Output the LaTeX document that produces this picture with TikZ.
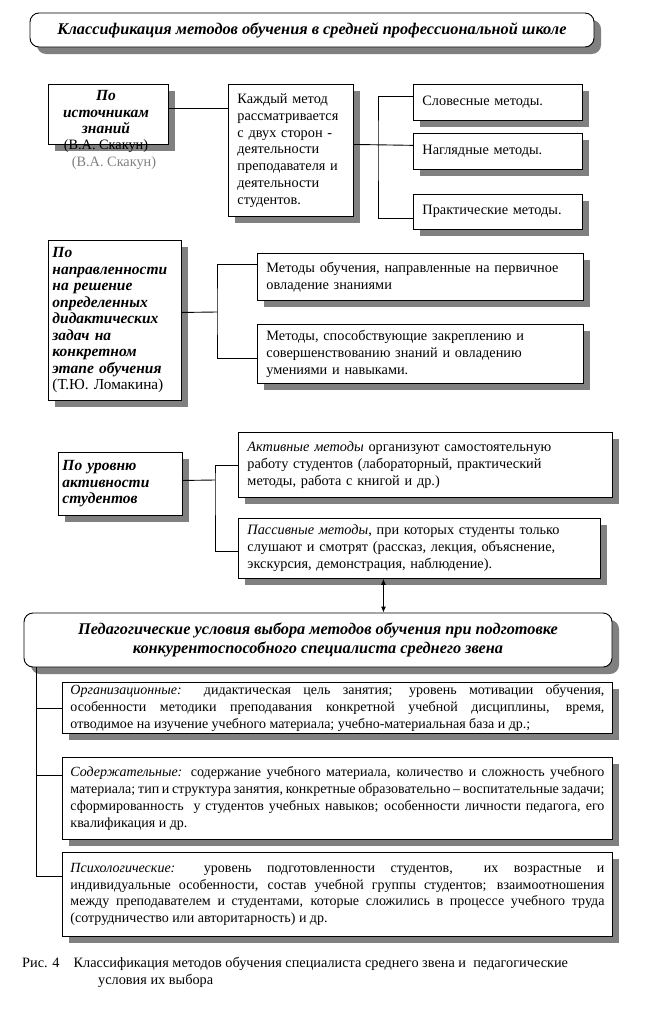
\documentclass[tikz,border=0pt]{standalone}
\usepackage{fontspec}
\setmainfont{Liberation Serif}
\usetikzlibrary{positioning,arrows.meta,shadows}
\newcommand\hdfont{\fontsize{16.3}{18.5}\selectfont\bfseries\itshape}
\newcommand\ctfont{\fontsize{15.5}{16.5}\selectfont\bfseries\itshape}
\newcommand\bdfont{\fontsize{14.3}{16.8}\selectfont}
\newcommand\cdfont{\fontsize{14}{16.7}\selectfont}

\begin{document}
\begin{tikzpicture}[x=1pt, y=-1pt,
    shadowed/.style={drop shadow={shadow xshift=7pt, shadow yshift=-7pt, fill=black!50, opacity=1}},
    headBox/.style={rectangle, rounded corners=9pt, draw=black, line width=0.9pt, fill=white, shadowed, font=\hdfont, align=center, inner sep=3pt},
    catBox/.style={rectangle, draw=black, line width=0.9pt, fill=white, shadowed, font=\ctfont, align=left, anchor=north west, inner xsep=4pt, inner ysep=2pt},
    methBox/.style={rectangle, draw=black, line width=0.9pt, fill=white, shadowed, font=\bdfont, align=left, anchor=north west, inner xsep=9pt, inner ysep=2pt},
    condBox/.style={rectangle, draw=black, line width=0.9pt, fill=white, shadowed, font=\cdfont, align=justify, anchor=north west, inner xsep=8pt, inner ysep=2pt, text width=534pt},
    link/.style={draw=black, line width=0.9pt},
    dblArrow/.style={{Latex[length=6pt,width=5pt]}-{Latex[length=6pt,width=5pt]}, line width=0.9pt}
]
    \useasboundingbox (0,0) rectangle (649,1009);

    % Title
    \node[headBox, minimum width=564pt, minimum height=34pt] (title) at (312,30)
        {Классификация методов обучения в средней профессиональной школе};

    % Block 1: sources of knowledge
    \node[catBox, minimum width=120pt, minimum height=60pt] (src) at (48,84) {};
    \node[font=\bdfont, text=black!50, inner sep=0pt] (srcShade) at (114,163) {(В.А. Скакун)};
    \node[font=\ctfont, align=center, anchor=north, inner sep=0pt] (srcLbl) at (106,90)
        {По\\[0.3pt]источникам\\[0.3pt]знаний\\[-0.5pt]{\bdfont\mdseries\upshape (В.А. Скакун)}};
    \node[methBox, text width=107pt, minimum height=132pt] (each) at (228,84)
        {Каждый метод\\рассматривается\\с двух сторон -\\деятельности\\преподавателя и\\деятельности\\студентов.};
    \node[methBox, text width=151pt, minimum height=36pt] (verb) at (413,84) {Словесные методы.};
    \node[methBox, text width=151pt, minimum height=36pt, below=12pt of verb.south west, anchor=north west] (vis) {Наглядные методы.};
    \node[methBox, text width=151pt, minimum height=35pt, below=24pt of vis.south west, anchor=north west] (prac) {Практические методы.};

    % Block 2: didactic tasks
    \node[catBox, text width=125pt, minimum height=160pt] (dir) at (48,240)
        {По\\направленности\\на решение\\определенных\\дидактических\\задач на\\конкретном\\этапе обучения\\{\fontsize{15.3}{16.5}\selectfont\mdseries\upshape (Т.Ю. Ломакина)}};
    \node[methBox, text width=308pt, minimum height=47pt] (m1) at (257,253)
        {Методы обучения, направленные на первичное\\овладение знаниями};
    \node[methBox, text width=308pt, minimum height=59pt, below=23pt of m1.south west, anchor=north west] (m2)
        {Методы, способствующие закреплению и\\совершенствованию знаний и овладению\\умениями и навыками.};

    % Block 3: activity of students
    \node[catBox, text width=116pt, minimum height=63pt] (lvl) at (58,452)
        {По уровню\\активности\\студентов};
    \node[methBox, text width=356pt, minimum height=65pt] (active) at (238,432)
        {\textit{Активные методы} организуют самостоятельную\\работу студентов (лабораторный, практический\\методы, работа с книгой и др.)};
    \node[methBox, text width=344pt, minimum height=60pt, below=20pt of active.south west, anchor=north west] (passive)
        {\textit{Пассивные методы}, при которых студенты только\\слушают и смотрят (рассказ, лекция, объяснение,\\экскурсия, демонстрация, наблюдение).};

    % Conditions of choice
    \node[headBox, minimum width=588pt, minimum height=54pt] (cond) at (318,640)
        {Педагогические условия выбора методов обучения при подготовке\\конкурентоспособного специалиста среднего звена};
    \node[condBox, minimum height=51pt] (org) at (62,682)
        {\textit{Организационные:} дидактическая цель занятия; уровень мотивации обучения,\linebreak
        особенности методики преподавания конкретной учебной дисциплины, время,\linebreak
        отводимое на изучение учебного материала; учебно-материальная база и др.;};
    \node[condBox, minimum height=82pt] (sod) at (62,757)
        {\textit{Содержательные:} содержание учебного материала, количество и сложность учебного\linebreak
        материала; тип и структура занятия, конкретные образовательно -- воспитательные задачи;\linebreak
        сформированность\ \ у студентов учебных навыков; особенности личности педагога, его\linebreak
        квалификация и др.};
    \node[condBox, minimum height=84pt] (psy) at (62,852)
        {\textit{Психологические:} уровень подготовленности студентов,\ \ их возрастные и\linebreak
        индивидуальные особенности, состав учебной группы студентов; взаимоотношения\linebreak
        между преподавателем и студентами, которые сложились в процессе учебного труда\linebreak
        (сотрудничество или авторитарность) и др.};

    % Caption
    \node[font=\bdfont, align=left, anchor=north west, inner sep=0pt] (caption) at (22,957)
        {Рис. 4\hspace{14pt}Классификация методов обучения специалиста среднего звена и\ \ педагогические\\\hspace*{76pt}условия их выбора};

    % Junctions
    \coordinate (j1) at (378,144);
    \coordinate (j2) at (217,312);
    \coordinate (j3) at (215,480);
    \coordinate (spine) at (36,700);

    % Connectors
    \draw[link] ([yshift=6pt]src.east) -- ([yshift=6pt]src.east -| each.west);
    \draw[link] ([yshift=6pt]each.east) -- ([yshift=6pt]vis.west);
    \draw[link] ([yshift=6pt]verb.west) -| (j1) |- ([yshift=-6.5pt]prac.west);

    \draw[link] ([yshift=8pt]dir.east) -- (j2);
    \draw[link] ([yshift=12.5pt]m1.west) -| (j2) |- ([yshift=-4.5pt]m2.west);

    \draw[link] ([yshift=3.5pt]lvl.east) -- (j3);
    \draw[link] (active.west) -| (j3) |- ([yshift=-3pt]passive.west);

    \draw[dblArrow] ([xshift=-36pt]passive.south) -- ([xshift=-36pt]passive.south |- cond.north);

    \draw[link] (cond.south -| spine) |- ([yshift=18pt]psy.west);
    \draw[link] (org.west) -- (org.west -| spine);
    \draw[link] ([yshift=23pt]sod.west) -- ([yshift=23pt]sod.west -| spine);

\end{tikzpicture}
\end{document}
